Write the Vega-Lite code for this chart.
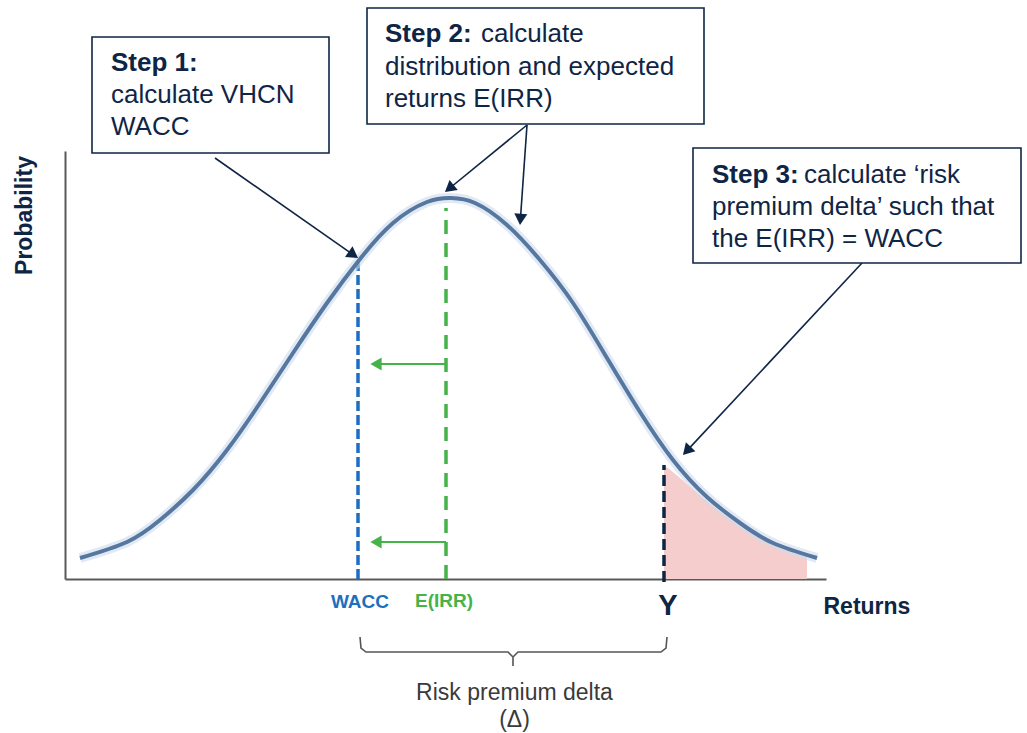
{
  "$schema": "https://vega.github.io/schema/vega-lite/v6.json",
  "width": 761,
  "height": 428,
  "autosize": {"type": "none"},
  "padding": {"left": 65, "top": 151, "right": 201, "bottom": 154},
  "background": "white",
  "config": {"view": {"stroke": null}, "font": "Liberation Sans"},
  "datasets": {
    "curve": [
      {"x": 1.5, "y": 2.1}, {"x": 6.2, "y": 3.7}, {"x": 9.5, "y": 5.9}, {"x": 12.8, "y": 8.9},
      {"x": 16.2, "y": 12.9}, {"x": 19.5, "y": 17.6}, {"x": 22.8, "y": 22.6}, {"x": 26.2, "y": 27.6},
      {"x": 29.5, "y": 32.0}, {"x": 32.8, "y": 35.6}, {"x": 36.2, "y": 37.7}, {"x": 38.6, "y": 38.1},
      {"x": 41.0, "y": 37.6}, {"x": 44.2, "y": 35.4}, {"x": 47.5, "y": 31.9}, {"x": 50.8, "y": 27.6},
      {"x": 54.2, "y": 22.1}, {"x": 57.5, "y": 16.7}, {"x": 60.8, "y": 11.9}, {"x": 64.2, "y": 8.2},
      {"x": 67.5, "y": 5.6}, {"x": 70.8, "y": 3.6}, {"x": 75.2, "y": 2.1}
    ],
    "tail": [
      {"x": 59.9, "y": 11.4}, {"x": 61.5, "y": 10.1}, {"x": 64.2, "y": 7.8}, {"x": 67.5, "y": 5.3},
      {"x": 70.8, "y": 3.4}, {"x": 74.2, "y": 2.2}
    ],
    "wacc": [{"x": 29.3, "y": 0, "y2": 31.7}],
    "eirr": [{"x": 38.1, "y": 0, "y2": 37.1}],
    "ymark": [{"x": 59.9, "y": -0.3, "y2": 11.4}],
    "shift": [{"x": 38.1, "x2": 31.1, "y": 21.5}, {"x": 38.1, "x2": 31.1, "y": 3.7}],
    "pointers": [
      {"x": 15.0, "y": 42.1, "x2": 28.84, "y2": 32.42, "angle": 125},
      {"x": 46.2, "y": 45.4, "x2": 38.43, "y2": 39.05, "angle": 230.7},
      {"x": 46.2, "y": 45.4, "x2": 45.54, "y2": 35.96, "angle": 184},
      {"x": 79.7, "y": 31.6, "x2": 62.18, "y2": 12.81, "angle": 223}
    ],
    "boxes": [
      {"x": 2.7, "x2": 26.4, "y": 42.6, "y2": 54.2},
      {"x": 30.2, "x2": 63.9, "y": 45.5, "y2": 57.1},
      {"x": 62.8, "x2": 95.6, "y": 31.6, "y2": 43.1}
    ],
    "stepTitles": [
      {"x": 4.6, "y": 50.8, "text": "Step 1:"},
      {"x": 32.0, "y": 53.7, "text": "Step 2:"},
      {"x": 64.7, "y": 39.6, "text": "Step 3:"}
    ],
    "stepText": [
      {"x": 4.6, "y": 47.6, "text": "calculate VHCN"},
      {"x": 4.6, "y": 44.4, "text": "WACC"},
      {"x": 41.6, "y": 53.7, "text": "calculate"},
      {"x": 32.0, "y": 50.4, "text": "distribution and expected"},
      {"x": 32.0, "y": 47.2, "text": "returns E(IRR)"},
      {"x": 73.9, "y": 39.6, "text": "calculate ‘risk"},
      {"x": 64.7, "y": 36.4, "text": "premium delta’ such that"},
      {"x": 64.7, "y": 33.2, "text": "the E(IRR) = WACC"}
    ],
    "brace": [
      {"x": 29.5, "y": -5.8, "o": 1}, {"x": 29.6, "y": -6.9, "o": 2}, {"x": 30.1, "y": -7.3, "o": 3},
      {"x": 44.3, "y": -7.3, "o": 4}, {"x": 44.8, "y": -7.8, "o": 5}, {"x": 44.8, "y": -8.7, "o": 6},
      {"x": 44.8, "y": -7.8, "o": 7}, {"x": 45.3, "y": -7.3, "o": 8}, {"x": 59.6, "y": -7.3, "o": 9},
      {"x": 60.1, "y": -6.9, "o": 10}, {"x": 60.2, "y": -5.8, "o": 11}
    ],
    "delta": [
      {"x": 44.95, "y": -12.1, "text": "Risk premium delta"},
      {"x": 44.95, "y": -14.8, "text": "(Δ)"}
    ]
  },
  "layer": [
    {
      "data": {"name": "tail"},
      "mark": {"type": "area", "color": "#f5cdcc", "interpolate": "natural"},
      "encoding": {
        "x": {"field": "x", "type": "quantitative", "scale": {"domain": [0, 76.1], "nice": false, "zero": false},
          "axis": {"title": "Returns", "grid": false, "ticks": false, "labels": false, "domainColor": "#595959", "domainWidth": 2,
            "titleX": 758, "titleY": 34, "titleAlign": "left", "titleBaseline": "alphabetic", "titleFont": "Liberation Sans",
            "titleFontSize": 23, "titleFontWeight": "bold", "titleColor": "#0f2545"}},
        "y": {"field": "y", "type": "quantitative", "scale": {"domain": [0, 42.8], "nice": false, "zero": false},
          "axis": {"title": "Probability", "grid": false, "ticks": false, "labels": false, "domainColor": "#595959", "domainWidth": 2,
            "titleX": -41, "titleY": 64, "titleAngle": 270, "titleAlign": "center", "titleBaseline": "middle", "titleFont": "Liberation Sans",
            "titleFontSize": 23, "titleFontWeight": "bold", "titleColor": "#0f2545"}},
        "y2": {"datum": 0}
      }
    },
    {
      "data": {"name": "wacc"},
      "mark": {"type": "rule", "color": "#1d6fbd", "strokeWidth": 3.5, "strokeDash": [10, 4]},
      "encoding": {"x": {"field": "x", "type": "quantitative"}, "y": {"field": "y", "type": "quantitative"}, "y2": {"field": "y2"}}
    },
    {
      "data": {"name": "eirr"},
      "mark": {"type": "rule", "color": "#45b24a", "strokeWidth": 3.5, "strokeDash": [14, 9]},
      "encoding": {"x": {"field": "x", "type": "quantitative"}, "y": {"field": "y", "type": "quantitative"}, "y2": {"field": "y2"}}
    },
    {
      "data": {"name": "ymark"},
      "mark": {"type": "rule", "color": "#0f2545", "strokeWidth": 3.5, "strokeDash": [11, 5]},
      "encoding": {"x": {"field": "x", "type": "quantitative"}, "y": {"field": "y", "type": "quantitative"}, "y2": {"field": "y2"}}
    },
    {
      "data": {"name": "shift"},
      "mark": {"type": "rule", "color": "#45b24a", "strokeWidth": 2},
      "encoding": {"x": {"field": "x", "type": "quantitative"}, "x2": {"field": "x2"}, "y": {"field": "y", "type": "quantitative"}}
    },
    {
      "data": {"name": "shift"},
      "mark": {"type": "point", "shape": "triangle-left", "filled": true, "color": "#45b24a", "size": 170, "opacity": 1},
      "encoding": {"x": {"field": "x2", "type": "quantitative"}, "y": {"field": "y", "type": "quantitative"}}
    },
    {
      "data": {"name": "curve"},
      "mark": {"type": "line", "color": "#cddcec", "strokeWidth": 10, "opacity": 0.6, "interpolate": "natural"},
      "encoding": {"x": {"field": "x", "type": "quantitative"}, "y": {"field": "y", "type": "quantitative"}}
    },
    {
      "data": {"name": "curve"},
      "mark": {"type": "line", "color": "#56779f", "strokeWidth": 4, "interpolate": "natural"},
      "encoding": {"x": {"field": "x", "type": "quantitative"}, "y": {"field": "y", "type": "quantitative"}}
    },
    {
      "data": {"name": "pointers"},
      "mark": {"type": "rule", "color": "#0f2545", "strokeWidth": 1.6},
      "encoding": {"x": {"field": "x", "type": "quantitative"}, "y": {"field": "y", "type": "quantitative"}, "x2": {"field": "x2"}, "y2": {"field": "y2"}}
    },
    {
      "data": {"name": "pointers"},
      "mark": {"type": "point", "shape": "triangle-up", "filled": true, "color": "#0f2545", "size": 170, "opacity": 1},
      "encoding": {"x": {"field": "x2", "type": "quantitative"}, "y": {"field": "y2", "type": "quantitative"}, "angle": {"field": "angle", "type": "quantitative", "scale": null}}
    },
    {
      "data": {"name": "boxes"},
      "mark": {"type": "rect", "fill": "white", "stroke": "#0f2545", "strokeWidth": 1.6},
      "encoding": {"x": {"field": "x", "type": "quantitative"}, "x2": {"field": "x2"}, "y": {"field": "y", "type": "quantitative"}, "y2": {"field": "y2"}}
    },
    {
      "data": {"name": "stepTitles"},
      "mark": {"type": "text", "align": "left", "baseline": "alphabetic", "font": "Liberation Sans", "fontSize": 26, "fontWeight": "bold", "color": "#0f2545"},
      "encoding": {"x": {"field": "x", "type": "quantitative"}, "y": {"field": "y", "type": "quantitative"}, "text": {"field": "text"}}
    },
    {
      "data": {"name": "stepText"},
      "mark": {"type": "text", "align": "left", "baseline": "alphabetic", "font": "Liberation Sans", "fontSize": 26, "color": "#0f2545"},
      "encoding": {"x": {"field": "x", "type": "quantitative"}, "y": {"field": "y", "type": "quantitative"}, "text": {"field": "text"}}
    },
    {
      "data": {"values": [{"x": 29.5, "y": -2.9, "text": "WACC"}]},
      "mark": {"type": "text", "align": "center", "baseline": "alphabetic", "font": "Liberation Sans", "fontSize": 19, "fontWeight": "bold", "color": "#1d6fbd"},
      "encoding": {"x": {"field": "x", "type": "quantitative"}, "y": {"field": "y", "type": "quantitative"}, "text": {"field": "text"}}
    },
    {
      "data": {"values": [{"x": 37.9, "y": -2.8, "text": "E(IRR)"}]},
      "mark": {"type": "text", "align": "center", "baseline": "alphabetic", "font": "Liberation Sans", "fontSize": 19, "fontWeight": "bold", "color": "#45b24a"},
      "encoding": {"x": {"field": "x", "type": "quantitative"}, "y": {"field": "y", "type": "quantitative"}, "text": {"field": "text"}}
    },
    {
      "data": {"values": [{"x": 60.3, "y": -3.6, "text": "Y"}]},
      "mark": {"type": "text", "align": "center", "baseline": "alphabetic", "font": "Liberation Sans", "fontSize": 29, "fontWeight": "bold", "color": "#0f2545"},
      "encoding": {"x": {"field": "x", "type": "quantitative"}, "y": {"field": "y", "type": "quantitative"}, "text": {"field": "text"}}
    },
    {
      "data": {"name": "brace"},
      "mark": {"type": "line", "color": "#555555", "strokeWidth": 1.6},
      "encoding": {"x": {"field": "x", "type": "quantitative"}, "y": {"field": "y", "type": "quantitative"}, "order": {"field": "o", "type": "quantitative"}}
    },
    {
      "data": {"name": "delta"},
      "mark": {"type": "text", "align": "center", "baseline": "alphabetic", "font": "Liberation Sans", "fontSize": 23, "color": "#3a3a3a"},
      "encoding": {"x": {"field": "x", "type": "quantitative"}, "y": {"field": "y", "type": "quantitative"}, "text": {"field": "text"}}
    }
  ]
}
